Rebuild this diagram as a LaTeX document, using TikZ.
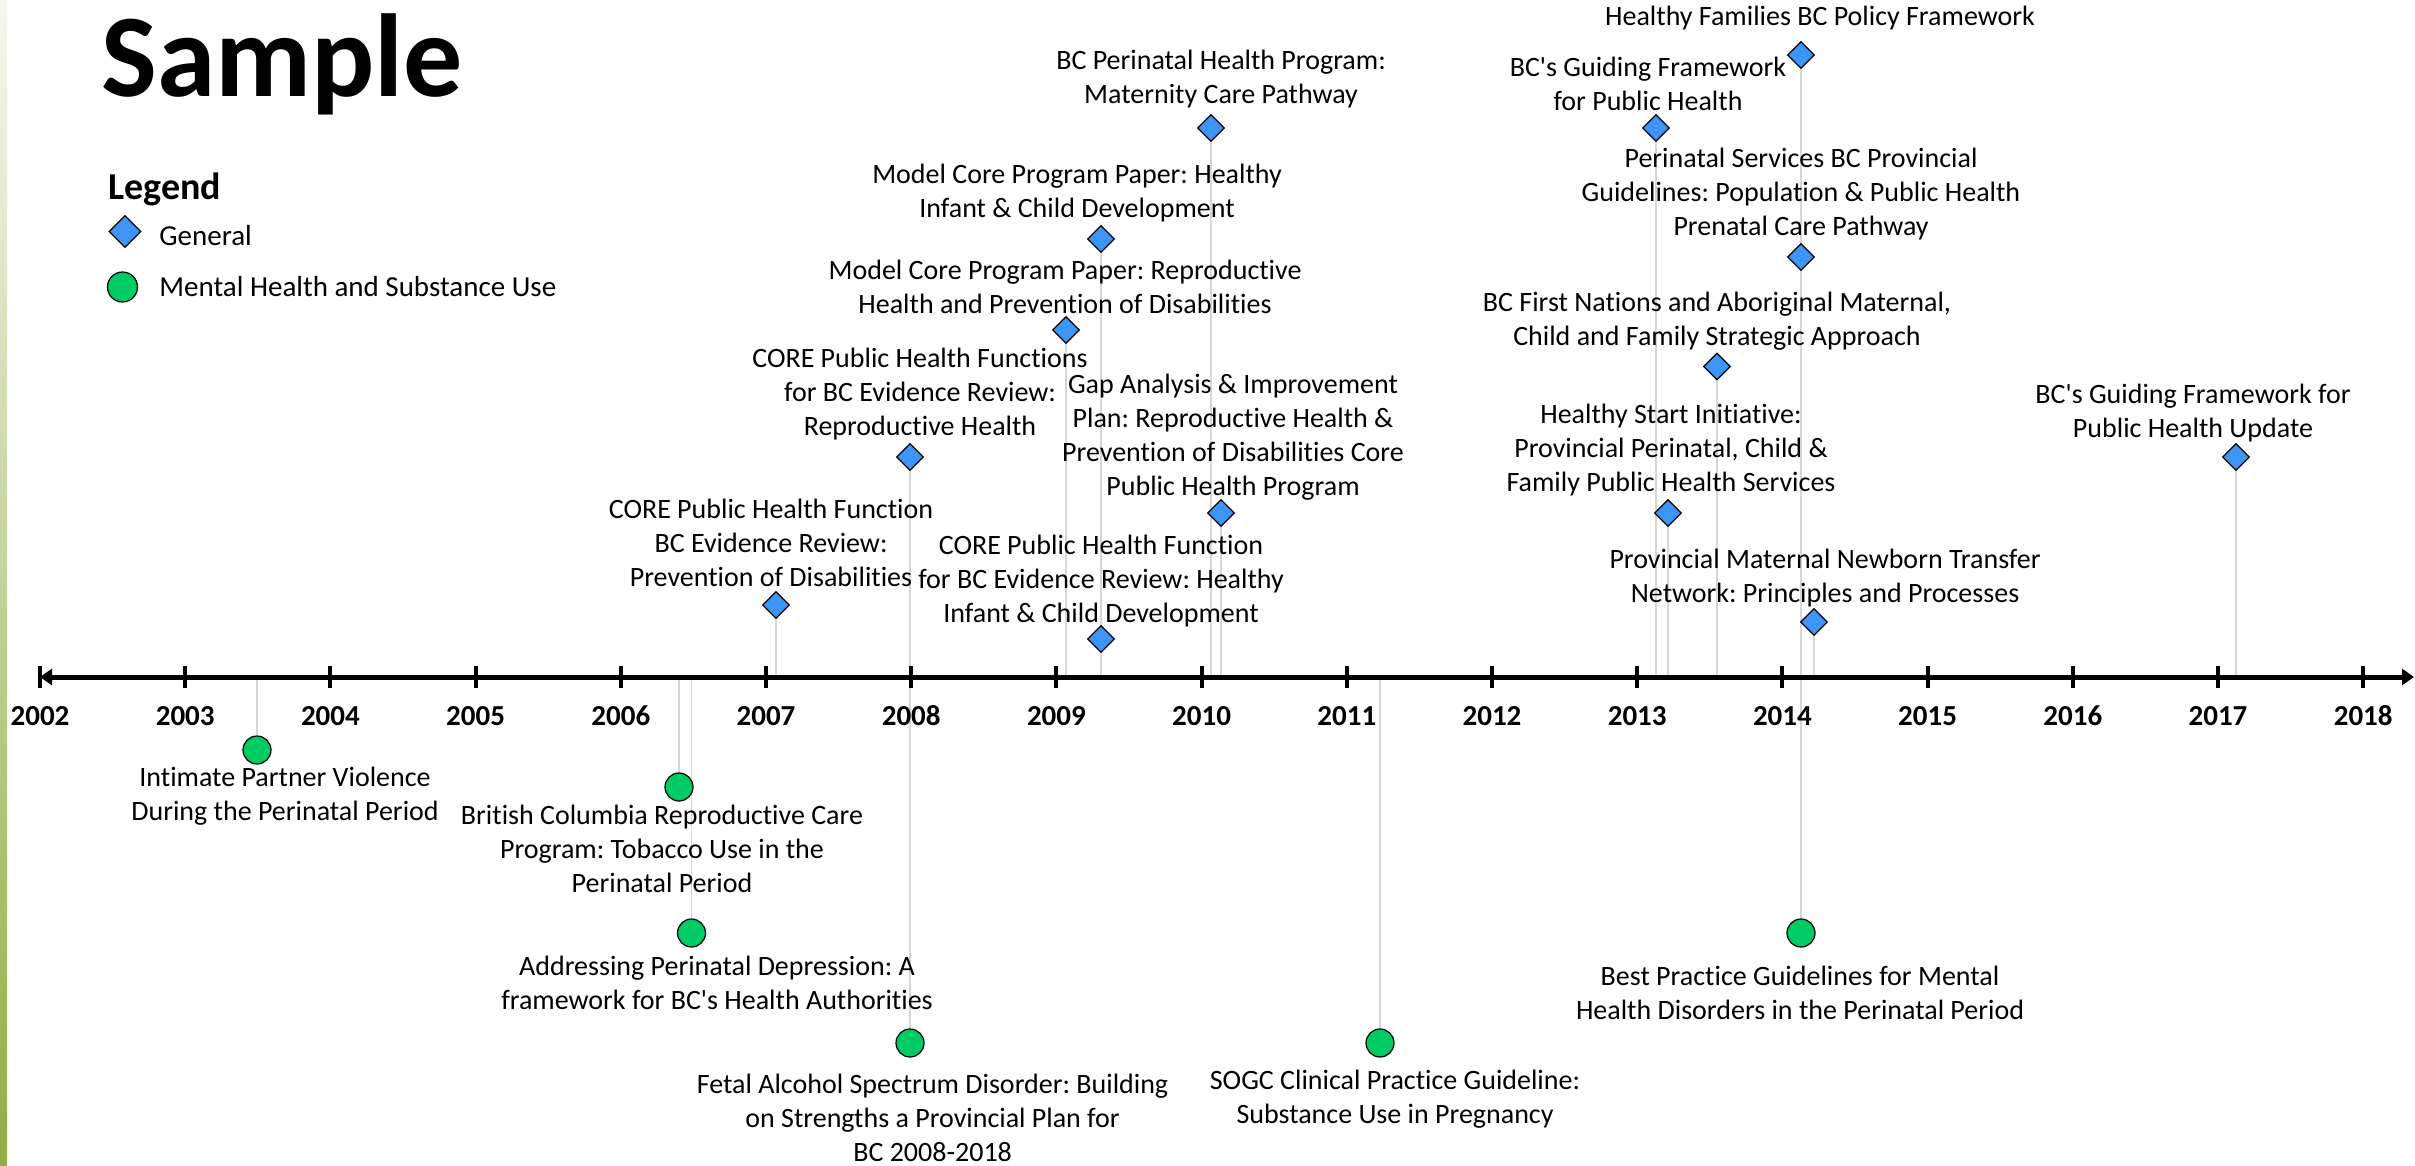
\documentclass[tikz,border=0pt]{standalone}
\usepackage{fontspec}
\setmainfont{Carlito}[Ligatures={TeXOff,NoCommon}]
\usetikzlibrary{shapes.geometric,arrows.meta}
\pgfdeclarelayer{bg}
\pgfsetlayers{bg,main}
\definecolor{gblue}{RGB}{61,149,245}
\definecolor{mgreen}{RGB}{0,204,102}
\definecolor{stemgray}{RGB}{214,214,214}
\definecolor{barTop}{RGB}{245,248,238}
\definecolor{barMid}{RGB}{216,226,194}
\definecolor{barBot}{RGB}{147,172,69}
\frenchspacing
\begin{document}
\frenchspacing
\begin{tikzpicture}[x=0.5pt,y=-0.5pt,
  ev/.style={font=\fontsize{14}{17}\selectfont, align=center, inner sep=0pt},
  gen/.style={shape=diamond, draw=black, fill=gblue, minimum width=13.5pt, minimum height=13.5pt, inner sep=0pt, line width=0.6pt},
  mh/.style={circle, draw=black, fill=mgreen, minimum size=14pt, inner sep=0pt, line width=0.6pt},
  stem/.style={draw=stemgray, line width=0.75pt},
  yr/.style={font=\bfseries\fontsize{14.5}{17}\selectfont, inner sep=0pt},
  tickmark/.style={line width=2pt},
  legtxt/.style={font=\fontsize{14.5}{17}\selectfont, inner sep=0pt, anchor=base west}
]
\useasboundingbox (0,0) rectangle (2415,1166);
\begin{pgfonlayer}{bg}
\fill[white] (0,0) rectangle (2415,1166);
\shade[top color=barTop, middle color=barMid, bottom color=barBot] (0,0) rectangle (7,1166);
\end{pgfonlayer}

% title and legend
\node[font=\bfseries\fontsize{59}{62}\selectfont, inner sep=0pt, anchor=base west] (title) at (101,97) {Sample};
\node[font=\bfseries\fontsize{19}{22}\selectfont, inner sep=0pt, anchor=base west] (legend) at (108,200) {Legend};
\node[gen, minimum width=16pt, minimum height=16pt] (lgd) at (125,231.5) {};
\node[legtxt] (lgdt) at (159,246) {General};
\node[mh, minimum size=15pt] (lgc) at (122.5,287) {};
\node[legtxt] (lgct) at (159,297) {Mental Health and Substance Use};

% axis
\coordinate (axL) at (40,677);
\coordinate (axR) at (2414,677);
\foreach \yy in {2002,...,2018}{
  \pgfmathsetmacro{\xx}{40+(\yy-2002)*145.2}
  \draw[tickmark] (\xx,666) -- (\xx,688);
  \node[yr] (y\yy) at (\xx,716) {\yy};
}
\draw[line width=2.5pt, {Triangle[length=6pt,width=8pt]}-{Triangle[length=6pt,width=8pt]}] (axL) -- (axR);

% General events (above)
\node[gen] (d1) at (776,605) {};
\node[ev] (t1) at (771,543) {CORE Public Health Function\\BC Evidence Review:\\Prevention of Disabilities};
\node[gen] (d2) at (910,457) {};
\node[ev] (t2) at (920,394) {CORE Public Health Functions\\for BC Evidence Review:\\Reproductive Health};
\node[gen] (d3) at (1066,330) {};
\node[ev] (t3) at (1065,287) {Model Core Program Paper: Reproductive\\Health and Prevention of Disabilities};
\node[gen] (d4) at (1101,239) {};
\node[ev] (t4) at (1077,193) {Model Core Program Paper: Healthy\\Infant \& Child Development};
\node[gen] (d5) at (1211,128) {};
\node[ev] (t5) at (1221,79) {BC Perinatal Health Program:\\Maternity Care Pathway};
\node[gen] (d6) at (1221,513) {};
\node[ev] (t6) at (1233,437) {Gap Analysis \& Improvement\\Plan: Reproductive Health \&\\Prevention of Disabilities Core\\Public Health Program};
\node[gen] (d7) at (1101,639) {};
\node[ev] (t7) at (1101,581) {CORE Public Health Function\\for BC Evidence Review: Healthy\\Infant \& Child Development};
\node[gen] (d8) at (1801,55) {};
\node[ev] (t8) at (1820,18) {Healthy Families BC Policy Framework};
\node[gen] (d9) at (1656,128) {};
\node[ev] (t9) at (1648,84) {BC's Guiding Framework\\for Public Health};
\node[gen] (d10) at (1801,257) {};
\node[ev] (t10) at (1801,194) {Perinatal Services BC Provincial\\Guidelines: Population \& Public Health\\Prenatal Care Pathway};
\node[gen] (d11) at (1717,366.5) {};
\node[ev] (t11) at (1717,321) {BC First Nations and Aboriginal Maternal,\\Child and Family Strategic Approach};
\node[gen] (d12) at (1668,513) {};
\node[ev] (t12) at (1671,450) {Healthy Start Initiative:\\Provincial Perinatal, Child \&\\Family Public Health Services};
\node[gen] (d13) at (1814,622) {};
\node[ev] (t13) at (1825,578) {Provincial Maternal Newborn Transfer\\Network: Principles and Processes};
\node[gen] (d14) at (2236,457) {};
\node[ev] (t14) at (2193,413) {BC's Guiding Framework for\\Public Health Update};

% Mental health events (below)
\node[mh] (c15) at (257,750) {};
\node[ev] (t15) at (285,796) {Intimate Partner Violence\\During the Perinatal Period};
\node[mh] (c16) at (679,787) {};
\node[ev] (t16) at (662,849) {British Columbia Reproductive Care\\Program: Tobacco Use in the\\Perinatal Period};
\node[mh] (c17) at (691.5,933) {};
\node[ev] (t17) at (717,983) {Addressing Perinatal Depression: A\\framework for BC's Health Authorities};
\node[mh] (c18) at (910,1043) {};
\node[ev] (t18) at (932.6,1118) {Fetal Alcohol Spectrum Disorder: Building\\on Strengths a Provincial Plan for\\BC 2008-2018};
\node[mh] (c19) at (1380,1043) {};
\node[ev] (t19) at (1395,1099) {SOGC Clinical Practice Guideline:\\Substance Use in Pregnancy};
\node[mh] (c20) at (1801,933) {};
\node[ev] (t20) at (1800,993) {Best Practice Guidelines for Mental\\Health Disorders in the Perinatal Period};

% stems
\begin{pgfonlayer}{bg}
\foreach \m in {d1,d2,d3,d4,d5,d6,d7,d8,d9,d10,d11,d12,d13,d14,c15,c16,c17,c18,c19,c20}{
  \draw[stem] (\m) -- (\m |- axL);
}
\end{pgfonlayer}
\end{tikzpicture}
\end{document}
